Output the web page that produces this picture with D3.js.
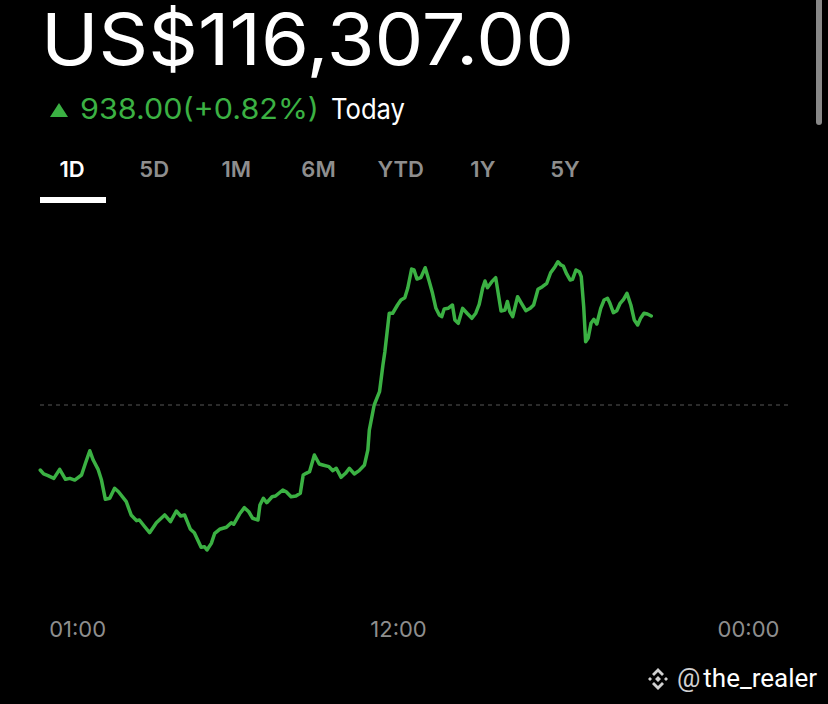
<!DOCTYPE html>
<html>
<head>
<meta charset="utf-8">
<script src="https://cdn.jsdelivr.net/npm/d3@7"></script>
<style>
  html, body { margin: 0; padding: 0; background: #000; }
  svg { display: block; font-family: Inter, "Noto Sans", sans-serif; }
</style>
</head>
<body>
<svg id="chart" width="828" height="704"></svg>
<script>
// quote header
const price = 116307.00
const change = 938.00
const changePct = 0.82
const prevClose = price - change

const tabs = ["1D", "5D", "1M", "6M", "YTD", "1Y", "5Y"]
const activeTab = "1D"

const axisTicks = ["01:00", "12:00", "00:00"]

// 1D intraday price, times (first two points are the evening before)
const times = ["23:44","23:51","00:00","00:12","00:24","00:36","00:45","00:55","01:09","01:17","01:26","01:33","01:43","01:50","01:58","02:07","02:17","02:25","02:41","02:51","03:02","03:08","03:19","03:29","03:43","04:00","04:12","04:24","04:33","04:41","04:53",
  "05:01","05:08","05:15","05:22","05:27","05:36","05:43","05:53","06:07","06:17","06:22","06:34","06:44","06:53","07:01","07:12","07:16","07:23","07:30","07:41","07:48","08:03","08:10","08:20","08:30","08:39","08:45","08:51","08:58","09:08","09:18","09:25","09:38","09:46","09:53","10:03","10:12","10:20","10:30","10:40","10:51","10:58",
  "11:01","11:11","11:22","11:29","11:33","11:42","11:49","11:59","12:06","12:14","12:20","12:28","12:33","12:39","12:47","12:56","13:04","13:11","13:18","13:25","13:30","13:35","13:43","13:52","13:57","14:04","14:13","14:22","14:32","14:40","14:47","14:54","14:59","15:04","15:13","15:21","15:32","15:40","15:45","15:50","15:56","16:06","16:14","16:23","16:32","16:39","16:48","16:57","17:06","17:14","17:23","17:29","17:35","17:40","17:47","17:54","17:59","18:06","18:13","18:17","18:22","18:26","18:31","18:37","18:43","18:49","18:57","19:04","19:11","19:16","19:23","19:30","19:37","19:44","19:51","19:59","20:06","20:13","20:19","20:26","20:33","20:41"]

const prices = [114684,114642,114624,114596,114691,114586,114596,114578,114631,114755,114887,114789,114691,114578,114375,114386,114491,114455,114350,114210,114150,114157,114086,114023,114128,114210,114139,114252,114199,114210,114059,
  114023,113946,113869,113875,113841,113911,114017,114059,114080,114128,114112,114220,114287,114244,114175,114157,114315,114386,114339,114402,114410,114473,114455,114402,114410,114438,114631,114649,114666,114842,114747,114737,114719,114677,114702,114607,114649,114702,114642,114677,114737,114895,
  115105,115369,115509,115791,115931,116336,116336,116423,116476,116500,116599,116802,116792,116697,116711,116816,116676,116546,116388,116318,116300,116381,116388,116423,116265,116230,116388,116336,116283,116336,116430,116599,116676,116605,116669,116711,116360,116370,116460,116354,116300,116510,116441,116363,116388,116423,116588,116616,116652,116763,116827,116879,116845,116834,116750,116687,116694,116792,116774,116721,116405,116036,116072,116230,116272,116223,116388,116476,116494,116441,116342,116363,116441,116483,116546,116423,116265,116212,116283,116336,116328,116307]

const GREEN = "#3bb143"
const GREY = "#8e8e8e"

const svg = d3.select("#chart")

// turn "HH:MM" strings into dates, rolling over midnight
let dayOffset = 0
let lastMin = -1
const data = times.map((t, i) => {
  const [h, m] = t.split(":").map(Number)
  const mins = h * 60 + m
  if (mins < lastMin) dayOffset++
  lastMin = mins
  return {ts: new Date(2025, 6, 14 + dayOffset, h, m), price: prices[i]}
})

const dayStart = new Date(2025, 6, 15)
const dayEnd = new Date(2025, 6, 16)

const x = d3.scaleTime().domain([dayStart, dayEnd]).range([48, 748])
const y = d3.scaleLinear().domain([prevClose, price]).range([405, 316])

// header
svg.append("text")
  .attr("x", 41)
  .attr("y", 65)
  .attr("fill", "#fff")
  .attr("font-size", 71)
  .attr("textLength", 533)
  .attr("lengthAdjust", "spacingAndGlyphs")
  .text("US$" + d3.format(",.2f")(price))

svg.append("path")
  .attr("d", "M50,117L59,103L68,117Z")
  .attr("fill", GREEN)

svg.append("text")
  .attr("x", 80)
  .attr("y", 119)
  .attr("font-size", 28)
  .attr("fill", GREEN)
  .attr("textLength", 239)
  .attr("lengthAdjust", "spacingAndGlyphs")
  .text(`${d3.format(".2f")(change)}(+${d3.format(".2f")(changePct)}%)`)

svg.append("text")
  .attr("x", 331)
  .attr("y", 119)
  .attr("font-size", 28)
  .attr("fill", "#fff")
  .attr("textLength", 74)
  .attr("lengthAdjust", "spacingAndGlyphs")
  .text("Today")

// range tabs
const tabX = d3.scalePoint().domain(tabs).range([72, 565])
svg.append("g")
  .selectAll("text")
  .data(tabs)
  .enter()
  .append("text")
  .attr("x", d => tabX(d))
  .attr("y", 177)
  .attr("text-anchor", "middle")
  .attr("font-size", 22)
  .attr("font-weight", 600)
  .attr("fill", d => (d === activeTab ? "#fff" : GREY))
  .text(d => d)

svg.append("rect")
  .attr("x", 40)
  .attr("y", 197)
  .attr("width", 66)
  .attr("height", 6)
  .attr("fill", "#fff")

// scrollbar
svg.append("rect")
  .attr("x", 816)
  .attr("y", -6)
  .attr("width", 6)
  .attr("height", 131)
  .attr("rx", 3)
  .attr("fill", "#888")

// previous close
svg.append("line")
  .attr("x1", 40)
  .attr("x2", 790)
  .attr("y1", y(prevClose))
  .attr("y2", y(prevClose))
  .attr("stroke", "#3a3a3a")
  .attr("stroke-width", 1.5)
  .attr("stroke-dasharray", "4 4")

const line = d3.line()
  .x(d => x(d.ts))
  .y(d => y(d.price))

svg.append("path")
  .datum(data)
  .attr("d", line)
  .attr("fill", "none")
  .attr("stroke", GREEN)
  .attr("stroke-width", 3.5)
  .attr("stroke-linejoin", "round")
  .attr("stroke-linecap", "round")

// time axis
const parseTick = d3.timeParse("%H:%M")
const tickDates = axisTicks.map((t, i) => {
  const d = parseTick(t)
  return new Date(2025, 6, i === axisTicks.length - 1 ? 16 : 15, d.getHours(), d.getMinutes())
})

const axis = svg.append("g")
  .attr("transform", "translate(0, 621)")
  .call(
    d3.axisBottom(x)
      .tickValues(tickDates)
      .tickFormat(d3.timeFormat("%H:%M"))
      .tickSize(0)
      .tickPadding(0)
  )
axis.select(".domain").remove()
axis.selectAll("text")
  .attr("dy", "0.71em")
  .attr("fill", GREY)
  .attr("font-size", 22)
  .attr("font-family", "Inter, sans-serif")

// watermark
const wm = svg.append("g")
  .attr("transform", "translate(658, 679)")
  .attr("fill", "#d0d0d0")
wm.append("path")
  .attr("d", "M0,-11L6,-5L4,-3L0,-7L-4,-3L-6,-5Z M0,11L6,5L4,3L0,7L-4,3L-6,5Z M0,-3L3,0L0,3L-3,0Z M-8,-2L-6,0L-8,2L-10,0Z M8,-2L10,0L8,2L6,0Z")

svg.append("text")
  .attr("x", 677)
  .attr("y", 687)
  .attr("font-size", 26)
  .attr("font-family", "Roboto, sans-serif")
  .attr("fill", "#fff")
  .call(t => t.append("tspan").attr("fill", "#d0d0d0").text("@"))
  .call(t => t.append("tspan").attr("dx", 3).text("the_realer"))
</script>
</body>
</html>
